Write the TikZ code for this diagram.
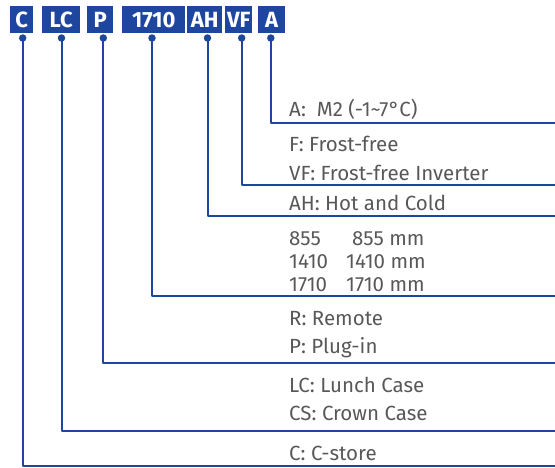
\documentclass[tikz,border=0pt]{standalone}
\usepackage{fontspec}
\setmainfont{Fira Sans}
\usetikzlibrary{positioning}
\definecolor{codeblue}{RGB}{31,70,158}
\definecolor{descgray}{RGB}{88,88,88}

\begin{document}
\begin{tikzpicture}[x=1pt, y=-1pt, line join=round,
    codebox/.style={fill=codeblue, text=white, anchor=north west, inner sep=0pt,
      minimum height=27pt, font=\bfseries\fontsize{22}{22}\selectfont},
    lead/.style={codeblue, line width=2pt},
    leaddot/.style={fill=codeblue, circle, inner sep=0pt, minimum size=7.5pt},
    desc/.style={descgray, anchor=base west, inner sep=0pt,
      font=\fontsize{20.5}{20.5}\selectfont}]
    \useasboundingbox (0,0) rectangle (555,467);
    % code boxes
    \node[codebox, minimum width=23pt] (c) at (10,6) {C};
    \node[codebox, minimum width=38pt] (lc) at (42,6) {LC};
    \node[codebox, minimum width=26pt] (p) at (87,6) {P};
    \node[codebox, minimum width=63pt] (len) at (122,6) {1710};
    \node[codebox, minimum width=35pt] (ah) at (187,6) {AH};
    \node[codebox, minimum width=27pt] (vf) at (225,6) {VF};
    \node[codebox, minimum width=27pt] (a) at (258,6) {A};
    % dots under the boxes
    \node[leaddot] (c-dot) at (22.7,38) {};
    \node[leaddot] (lc-dot) at (61.5,38) {};
    \node[leaddot] (p-dot) at (103.3,38) {};
    \node[leaddot] (len-dot) at (152,38) {};
    \node[leaddot] (ah-dot) at (207.5,38) {};
    \node[leaddot] (vf-dot) at (241.7,38) {};
    \node[leaddot] (a-dot) at (270.8,38) {};
    % right ends of the leaders
    \coordinate (a-end) at (555,122.7);
    \coordinate (vf-end) at (555,185);
    \coordinate (ah-end) at (555,216);
    \coordinate (len-end) at (555,296);
    \coordinate (p-end) at (555,363);
    \coordinate (lc-end) at (555,430.7);
    \coordinate (c-end) at (555,466);
    \draw[lead] (a-dot.center) |- (a-end);
    \draw[lead] (vf-dot.center) |- (vf-end);
    \draw[lead] (ah-dot.center) |- (ah-end);
    \draw[lead] (len-dot.center) |- (len-end);
    \draw[lead] (p-dot.center) |- (p-end);
    \draw[lead] (lc-dot.center) |- (lc-end);
    \draw[lead] (c-dot.center) |- (c-end);
    % descriptions
    \node[desc] (a-txt) at (289,116) {A:\ \ M2 (-1\char"7E 7\textdegree C)};
    \node[desc] (f-txt) at (289,151.5) {F: Frost-free};
    \node[desc] (vf-txt) at (289,180) {VF: Frost-free Inverter};
    \node[desc] (ah-txt) at (289,210.5) {AH: Hot and Cold};
    \node[desc] (l1-txt) at (289,245) {\makebox[63pt][l]{855}855 mm};
    \node[desc] (l2-txt) at (289,268) {\makebox[57pt][l]{1410}1410 mm};
    \node[desc] (l3-txt) at (289,291.5) {\makebox[57pt][l]{1710}1710 mm};
    \node[desc] (r-txt) at (289,325) {R: Remote};
    \node[desc] (p-txt) at (289,353) {P: Plug-in};
    \node[desc] (lc-txt) at (289,392.5) {LC: Lunch Case};
    \node[desc] (cs-txt) at (289,420.5) {CS: Crown Case};
    \node[desc] (c-txt) at (289,460) {C: C-store};
\end{tikzpicture}
\end{document}
